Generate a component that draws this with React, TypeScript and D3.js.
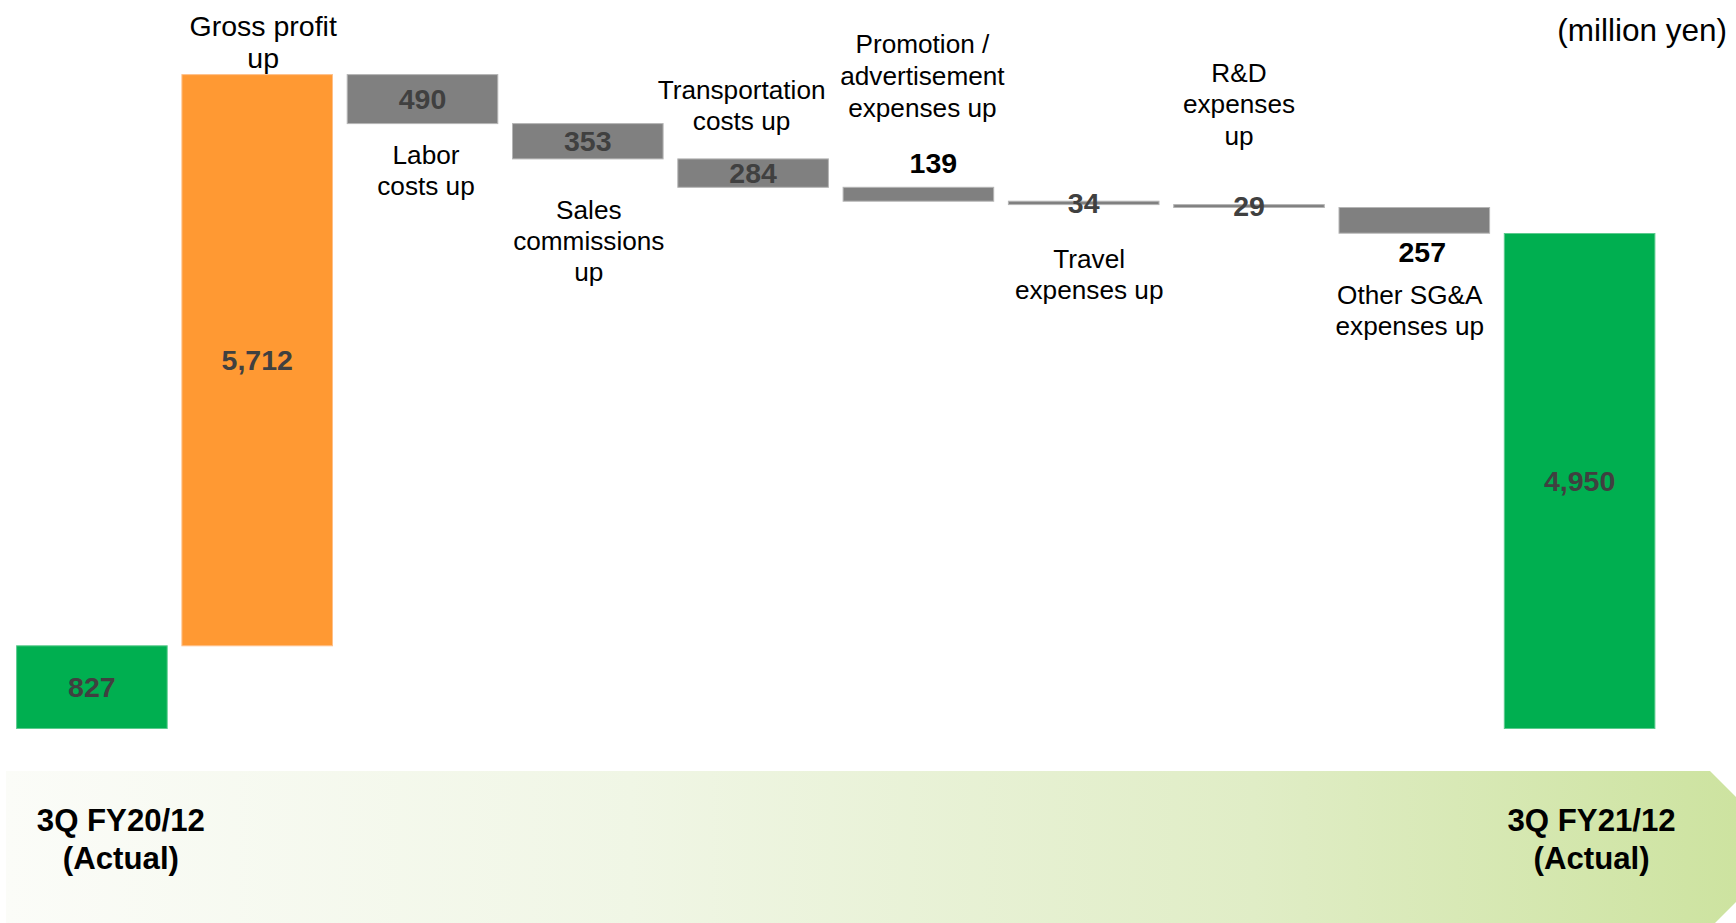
import React from "react";
import * as d3 from "d3";

// ---- data ----
const categoryLines: string[][] = [
  ["3Q FY20/12", "(Actual)"],
  ["Gross profit", "up"],
  ["Labor", "costs up"],
  ["Sales", "commissions", "up"],
  ["Transportation", "costs up"],
  ["Promotion /", "advertisement", "expenses up"],
  ["Travel", "expenses up"],
  ["R&D", "expenses", "up"],
  ["Other SG&A", "expenses up"],
  ["3Q FY21/12", "(Actual)"],
];
const values = [827, 5712, -490, -353, -284, -139, -34, -29, -257, 4950];
const kinds = ["total", "increase", "decrease", "decrease", "decrease", "decrease", "decrease", "decrease", "decrease", "total"];
const unitLabel = "(million yen)";

// ---- layout / style (not data) ----
const W = 1736;
const H = 923;
const FONT = "'Liberation Sans', Arial, Helvetica, sans-serif";
const colors: Record<string, string> = { total: "#00AF50", increase: "#FF9933", decrease: "#808080" };
const strokes: Record<string, string> = { total: "#5CCB8E", increase: "#FFC08A", decrease: "#B5B5B5" };
// category label placement relative to the bar
const labelLayout: ({ side: "above" | "below"; gap: number; dx: number; size: number; lh: number } | null)[] = [
  null,
  { side: "above", gap: 6.6, dx: 6, size: 28.5, lh: 32 },
  { side: "below", gap: 40.4, dx: 3.5, size: 26.2, lh: 31.2 },
  { side: "below", gap: 59.6, dx: 1, size: 26.2, lh: 31.2 },
  { side: "above", gap: 29, dx: -11.5, size: 26.2, lh: 31.2 },
  { side: "above", gap: 70, dx: 4, size: 26.2, lh: 32 },
  { side: "below", gap: 63.4, dx: 5.5, size: 26.2, lh: 30.5 },
  { side: "above", gap: 59.6, dx: -10, size: 26.2, lh: 31.6 },
  { side: "below", gap: 71, dx: -4.5, size: 26.2, lh: 31 },
  null,
];
const valuePlacement = ["inside", "inside", "inside", "inside", "inside", "above", "inside", "inside", "below", "inside"];

export default function App() {
  const idx = values.map((_, i) => i);
  const x = d3.scaleBand<number>().domain(idx).range([16.6, 1654.9]).paddingInner(0.089).paddingOuter(0);
  const y = d3.scaleLinear().domain([0, 7000]).range([728.5, 28.5]);

  // waterfall segments
  let running = 0;
  const segs = values.map((v, i) => {
    let a: number, b: number;
    if (kinds[i] === "total") {
      a = 0;
      b = v;
      running = v;
    } else {
      a = running;
      b = running + v;
      running = b;
    }
    const lo = Math.min(a, b);
    const hi = Math.max(a, b);
    return { i, v, kind: kinds[i], top: y(hi), bottom: y(lo) };
  });

  const fmt = d3.format(",");
  const bw = x.bandwidth();

  // arrow band
  const bandTop = 771;
  const bandBottom = 928;
  const bandX0 = 6;
  const bandX1 = 1710;
  const tipY = (bandTop + bandBottom) / 2;
  const tipX = bandX1 + (tipY - bandTop);
  const bandPath = d3.path();
  bandPath.moveTo(bandX0, bandTop);
  bandPath.lineTo(bandX1, bandTop);
  bandPath.lineTo(tipX, tipY);
  bandPath.lineTo(bandX1, bandBottom);
  bandPath.lineTo(bandX0, bandBottom);
  bandPath.closePath();

  const periodDx = [29, 12];

  return (
    <svg
      width={W}
      height={H}
      viewBox={`0 0 ${W} ${H}`}
      style={{ position: "absolute", left: 0, top: 0, background: "#fff" }}
      fontFamily={FONT}
    >
      <defs>
        <linearGradient id="bandGrad" x1="0" x2="1" y1="0" y2="0">
          <stop offset="0" stopColor="#FBFCF8" />
          <stop offset="0.35" stopColor="#F0F6E5" />
          <stop offset="0.7" stopColor="#E0EDC6" />
          <stop offset="1" stopColor="#CBE29C" />
        </linearGradient>
      </defs>
      <rect x={0} y={0} width={W} height={H} fill="#fff" />
      <path d={bandPath.toString()} fill="url(#bandGrad)" />

      {/* bars */}
      {segs.map((s) => (
        <rect
          key={"b" + s.i}
          x={x(s.i)}
          y={s.top}
          width={bw}
          height={Math.max(s.bottom - s.top, 1)}
          fill={colors[s.kind]}
          stroke={strokes[s.kind]}
          strokeWidth={1}
        />
      ))}

      {/* value labels */}
      {segs.map((s) => {
        const cx = (x(s.i) as number) + bw / 2;
        const place = valuePlacement[s.i];
        const fs = 28.5;
        let yy: number;
        let fill = "#404040";
        if (place === "inside") {
          yy = (s.top + s.bottom) / 2 + fs * 0.358;
        } else if (place === "above") {
          yy = s.top - 14.3;
          fill = "#000";
        } else {
          yy = s.bottom + 28.5;
          fill = "#000";
        }
        const dx = place === "above" ? 15 : place === "below" ? 8 : 0;
        return (
          <text
            key={"v" + s.i}
            x={cx + dx}
            y={yy}
            textAnchor="middle"
            fontSize={fs}
            fontWeight="bold"
            fill={fill}
          >
            {fmt(Math.abs(s.v))}
          </text>
        );
      })}

      {/* category labels */}
      {segs.map((s) => {
        const lay = labelLayout[s.i];
        if (!lay) return null;
        const lines = categoryLines[s.i];
        const cx = (x(s.i) as number) + bw / 2 + lay.dx;
        const n = lines.length;
        return (
          <text key={"c" + s.i} textAnchor="middle" fontSize={lay.size} fill="#000">
            {lines.map((ln, k) => {
              const yy =
                lay.side === "above"
                  ? s.top - lay.gap - (n - 1 - k) * lay.lh
                  : s.bottom + lay.gap + k * lay.lh;
              return (
                <tspan key={k} x={cx} y={yy}>
                  {ln}
                </tspan>
              );
            })}
          </text>
        );
      })}

      {/* period labels on the arrow band */}
      {[0, values.length - 1].map((bi, j) => {
        const cx = (x(bi) as number) + bw / 2 + periodDx[j];
        return (
          <text key={"p" + bi} textAnchor="middle" fontSize={31.2} fontWeight="bold" fill="#000">
            {categoryLines[bi].map((ln, k) => (
              <tspan key={k} x={cx} y={831 + k * 37.5}>
                {ln}
              </tspan>
            ))}
          </text>
        );
      })}

      {/* unit */}
      <text x={1727} y={41} textAnchor="end" fontSize={31.5} fill="#000">
        {unitLabel}
      </text>
    </svg>
  );
}
